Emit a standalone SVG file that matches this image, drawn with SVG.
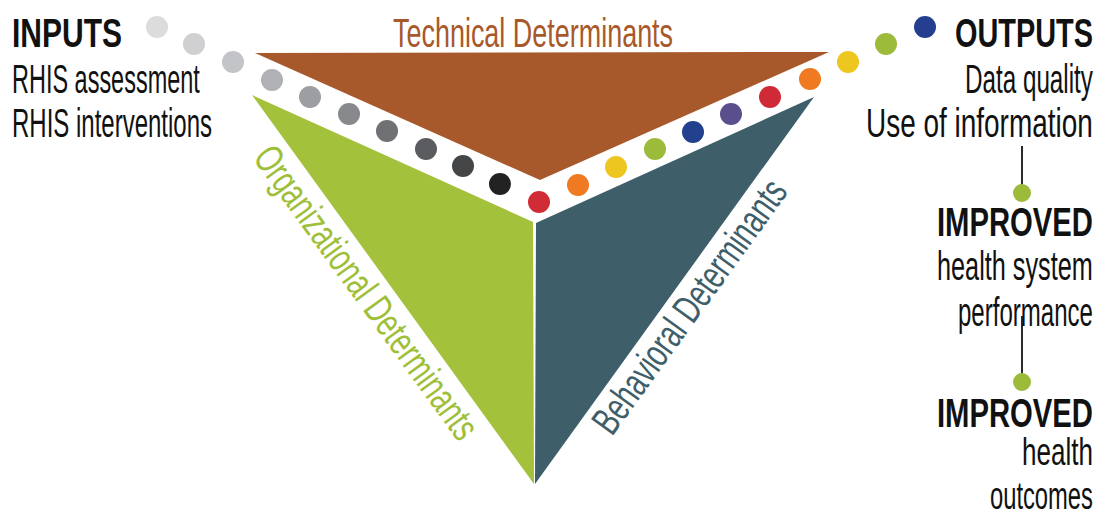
<svg xmlns="http://www.w3.org/2000/svg" width="1098" height="518" viewBox="0 0 1098 518">
<style>
text{font-family:"Liberation Sans",Arial,sans-serif;font-size:40px;}
.b{font-weight:bold;fill:#111;}
.r{fill:#111;}
.s{font-size:38px;}
.conn{stroke:#2a2a2a;stroke-width:2;fill:none;}
.gd{fill:#9dbb3a;}
</style>
<rect width="1098" height="518" fill="#ffffff"/>

<g id="technical">
<polygon points="255,53 829,52 540,180" fill="#a8592b"/>
<text transform="translate(393,47) scale(0.674,1)" fill="#a8592b">Technical Determinants</text>
</g>
<g id="organizational">
<polygon points="252,95 533,222 534,484" fill="#a3c13b"/>
<text transform="translate(252,158) rotate(54) scale(0.695,1)" fill="#9fbf3a">Organizational Determinants</text>
</g>
<g id="behavioral">
<polygon points="536,223 814,97 535,484" fill="#3e5f6a"/>
<text transform="translate(612,437) rotate(-54.2) scale(0.69,1)" fill="#3e5f6a">Behavioral Determinants</text>
</g>

<g id="dots">
<circle cx="157" cy="27" r="11" fill="#dcdcdd"/>
<circle cx="194" cy="44" r="11" fill="#d0d0d2"/>
<circle cx="233" cy="62" r="11" fill="#c3c4c7"/>
<circle cx="272" cy="80" r="11" fill="#b0b1b5"/>
<circle cx="310" cy="97" r="11" fill="#9d9ea2"/>
<circle cx="349" cy="114" r="11" fill="#88898d"/>
<circle cx="387" cy="131" r="11" fill="#707174"/>
<circle cx="426" cy="149" r="11" fill="#5b5c5f"/>
<circle cx="463" cy="166" r="11" fill="#444547"/>
<circle cx="500" cy="184" r="11" fill="#222222"/>
<circle cx="539" cy="202" r="11" fill="#d12b36"/>
<circle cx="578" cy="185" r="11" fill="#f07a22"/>
<circle cx="616" cy="167" r="11" fill="#edc620"/>
<circle cx="655" cy="149" r="11" fill="#9dbb3a"/>
<circle cx="693" cy="132" r="11" fill="#23408e"/>
<circle cx="731" cy="114" r="11" fill="#5a4e8c"/>
<circle cx="770" cy="97" r="11" fill="#cf2a35"/>
<circle cx="810" cy="79" r="11" fill="#f07a22"/>
<circle cx="848" cy="62" r="11" fill="#edc620"/>
<circle cx="886" cy="44" r="11" fill="#9dbb3a"/>
<circle cx="925" cy="27" r="11" fill="#233f8e"/>
</g>

<g id="inputs">
<text class="b" transform="translate(12,47) scale(0.75,1)">INPUTS</text>
<text class="r" transform="translate(12,93) scale(0.587,1)">RHIS assessment</text>
<text class="r" transform="translate(12,137) scale(0.6,1)">RHIS interventions</text>
</g>

<g id="outputs">
<text class="b" transform="translate(955,47) scale(0.722,1)">OUTPUTS</text>
<text class="r" transform="translate(965,93) scale(0.606,1)">Data quality</text>
<text class="r" transform="translate(866,137) scale(0.699,1)">Use of information</text>
</g>

<g id="connectors">
<line class="conn" x1="1022" y1="146" x2="1022" y2="190"/>
<line class="conn" x1="1022" y1="316" x2="1022" y2="380"/>
</g>

<g id="improved-performance">
<circle class="gd" cx="1022" cy="193" r="9"/>
<text class="b" transform="translate(937,236) scale(0.731,1)">IMPROVED</text>
<text class="r" transform="translate(937,280) scale(0.632,1)">health system</text>
<text class="r" transform="translate(958,326) scale(0.601,1)">performance</text>
</g>

<g id="improved-outcomes">
<circle class="gd" cx="1022" cy="382" r="9"/>
<text class="b" transform="translate(937,427) scale(0.731,1)">IMPROVED</text>
<text class="r s" transform="translate(1022,465) scale(0.686,1)">health</text>
<text class="r s" transform="translate(990,509) scale(0.625,1)">outcomes</text>
</g>
</svg>
